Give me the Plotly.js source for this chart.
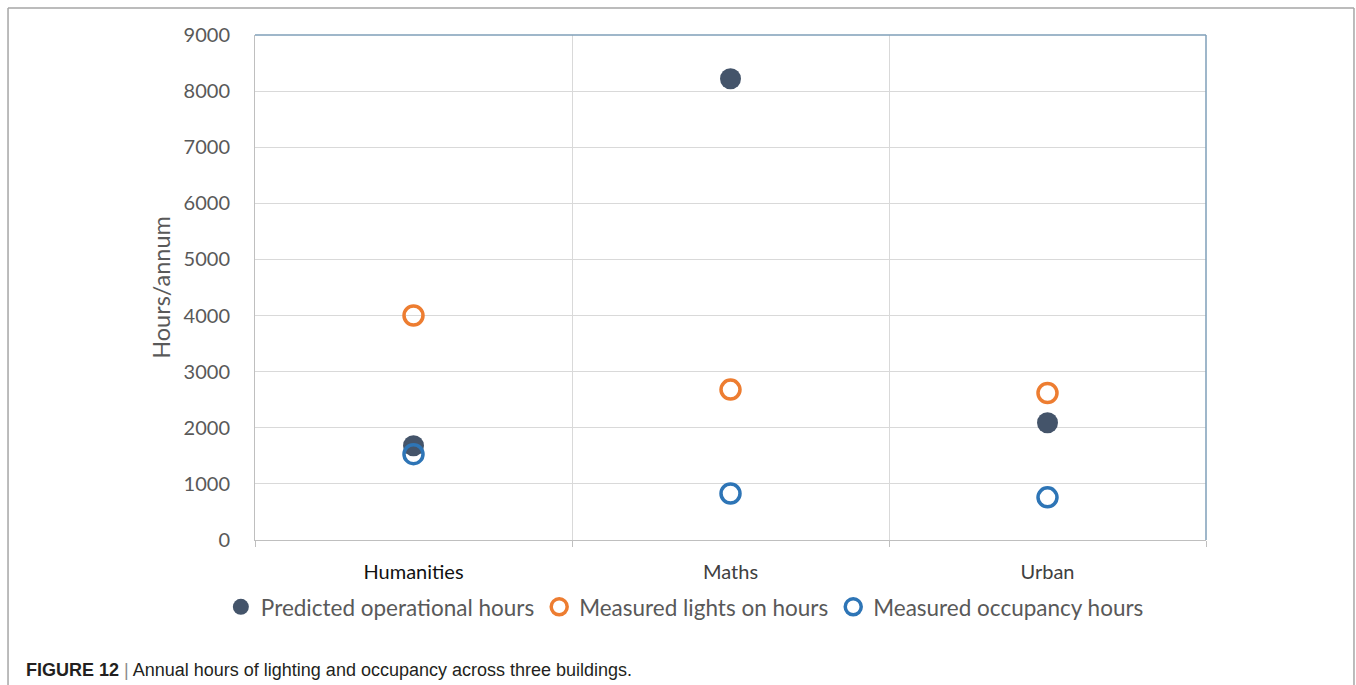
<!DOCTYPE html>
<html>
<head>
<meta charset="utf-8">
<script src="https://cdn.plot.ly/plotly-3.0.1.min.js"></script>
<style>
html,body{margin:0;padding:0;background:#fff;}
#chart{width:1356px;height:685px;}
</style>
</head>
<body>
<div id="chart"></div>
<script>
const categories = ["Humanities", "Maths", "Urban"];
const categoryColors = ["#111111", "#404040", "#404040"];
const predictedHours = [1680, 8220, 2090];
const lightsOnHours = [4000, 2680, 2620];
const occupancyHours = [1530, 830, 760];
const seriesNames = ["Predicted operational hours", "Measured lights on hours", "Measured occupancy hours"];
const yTicks = [0, 1000, 2000, 3000, 4000, 5000, 6000, 7000, 8000, 9000];

const traces = [
  {
    x: categories, y: predictedHours, name: seriesNames[0], type: "scatter", mode: "markers",
    marker: {symbol: "circle", size: 21, color: "#44546a", line: {width: 0}}
  },
  {
    x: categories, y: lightsOnHours, name: seriesNames[1], type: "scatter", mode: "markers",
    marker: {symbol: "circle-open", size: 19, color: "#ed7d31", line: {width: 3.5, color: "#ed7d31"}}
  },
  {
    x: categories, y: occupancyHours, name: seriesNames[2], type: "scatter", mode: "markers",
    marker: {symbol: "circle-open", size: 19, color: "#2e75b6", line: {width: 3.5, color: "#2e75b6"}}
  }
];

const layout = {
  width: 1356, height: 685,
  margin: {l: 255, r: 150, t: 35, b: 145},
  paper_bgcolor: "#ffffff", plot_bgcolor: "#ffffff",
  font: {family: "Lato, 'Open Sans', sans-serif", color: "#595959", size: 20},
  showlegend: true,
  legend: {
    orientation: "h", x: 0.452, xanchor: "center", y: -0.133, yanchor: "middle",
    font: {family: "Lato, sans-serif", size: 22.5, color: "#595959"},
    itemsizing: "trace", bgcolor: "rgba(0,0,0,0)"
  },
  xaxis: {
    type: "category",
    range: [-0.5, categories.length - 0.5],
    tickvals: categories,
    ticktext: categories.map((c, i) => "<span style='color:" + categoryColors[i] + "'>" + c + "</span>"),
    tickson: "boundaries",
    showgrid: true, gridcolor: "#d9d9d9", gridwidth: 1,
    ticks: "outside", ticklen: 6, tickcolor: "#bfbfbf",
    ticklabelstandoff: 14,
    showline: true, linecolor: "#bfbfbf", linewidth: 1,
    tickfont: {family: "Lato, sans-serif", size: 20, color: "#404040"},
    zeroline: false, fixedrange: true
  },
  yaxis: {
    range: [0, 9000], tickvals: yTicks, ticktext: yTicks.map(String),
    showgrid: true, gridcolor: "#d9d9d9", gridwidth: 1,
    showline: true, linecolor: "#bfbfbf", linewidth: 1,
    ticks: "", ticklabelstandoff: 20,
    tickfont: {family: "Lato, sans-serif", size: 20, color: "#595959"},
    title: {text: "Hours/annum", font: {family: "Lato, sans-serif", size: 23.5, color: "#595959"}, standoff: 6},
    zeroline: false, fixedrange: true
  },
  shapes: [
    {type: "line", xref: "paper", yref: "paper", x0: 0, x1: 1, y0: 1, y1: 1, line: {color: "#7f9fb8", width: 1.5}},
    {type: "line", xref: "paper", yref: "paper", x0: 1, x1: 1, y0: 0, y1: 1, line: {color: "#7f9fb8", width: 1.5}},
    {type: "line", xref: "paper", yref: "paper", x0: -0.2597, x1: 1.1556, y0: 1.0535, y1: 1.0535, line: {color: "#a6a6a6", width: 1.5}},
    {type: "line", xref: "paper", yref: "paper", x0: -0.2597, x1: -0.2597, y0: 1.0535, y1: -0.3, line: {color: "#a6a6a6", width: 1.5}},
    {type: "line", xref: "paper", yref: "paper", x0: 1.1556, x1: 1.1556, y0: 1.0535, y1: -0.3, line: {color: "#a6a6a6", width: 1.5}}
  ],
  annotations: [
    {
      xref: "paper", yref: "paper", x: -0.2429, y: -0.257, xanchor: "left", yanchor: "middle",
      showarrow: false, align: "left",
      text: "<b>FIGURE 12</b> <span style='color:#8c8c8c'>|</span> Annual hours of lighting and occupancy across three buildings.",
      font: {family: "'Liberation Sans', Arial, sans-serif", size: 18, color: "#231f20"}
    }
  ]
};

Plotly.newPlot("chart", traces, layout, {displayModeBar: false, staticPlot: true});
</script>
</body>
</html>
